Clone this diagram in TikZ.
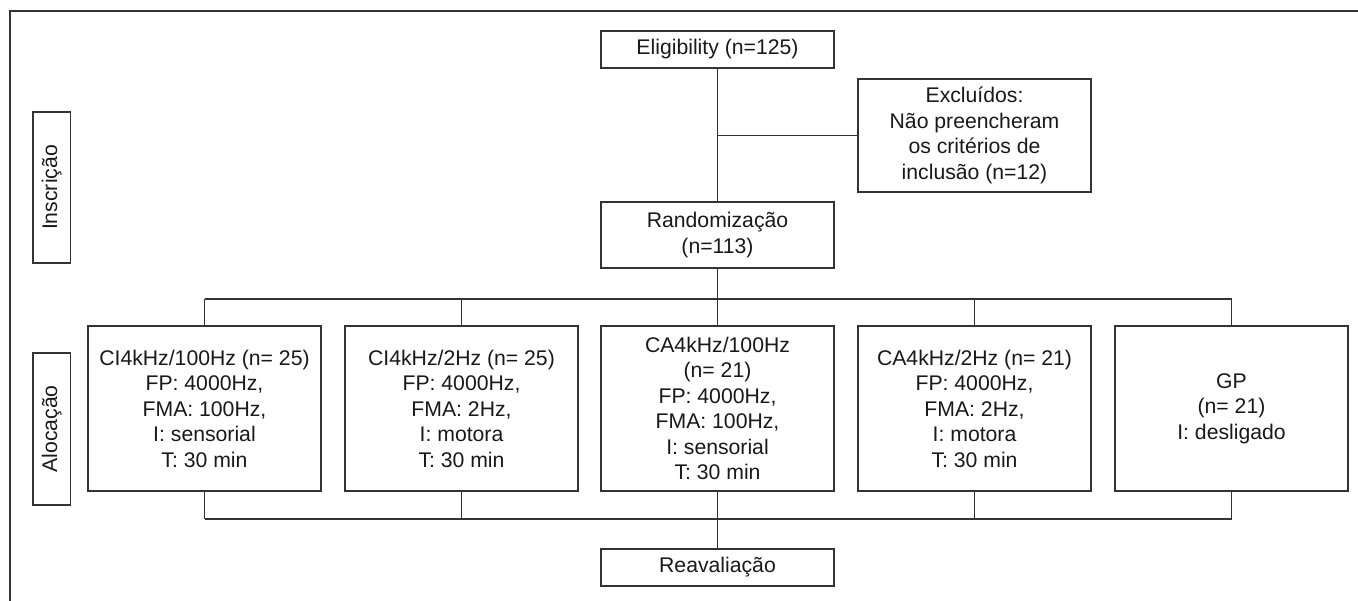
\documentclass[tikz,border=0pt]{standalone}
\usepackage{fontspec}
\setmainfont{Liberation Sans}
\begin{document}
\begin{tikzpicture}[x=0.5pt,y=-0.5pt,
  ln/.style={draw=black!80,line width=0.6pt},
  box/.style={ln,rectangle,inner sep=0pt,align=center,text=black!90,
    font=\fontsize{10.6}{12.75}\selectfont,minimum width=116.5pt},
  grp/.style={box,minimum height=82.5pt},
  side/.style={box,rotate=90,minimum width=75.5pt,minimum height=18.75pt}]
\useasboundingbox (0,0) rectangle (1358,600);
\begin{scope}
\clip (0,0) rectangle (1358,600);
\draw[ln] (10,11) rectangle (1380,620);
\end{scope}
% side labels
\node[side] (insc) at (51.75,187.5) {Inscrição};
\node[side,minimum width=76pt] (aloc) at (51.75,429) {Alocação};
% top part
\node[box,minimum height=18.5pt] (elig) at (717.5,49.5) {Eligibility (n=125)};
\node[box,minimum height=56.5pt] (excl) at (974.5,135.5) {Excluídos:\\Não preencheram\\os critérios de\\inclusão (n=12)};
\node[box,minimum height=33pt] (rand) at (717.5,235) {Randomização\\(n=113)};
% groups
\node[grp] (g1) at (204.5,408.5) {CI4kHz/100Hz (n= 25)\\FP: 4000Hz,\\FMA: 100Hz,\\I: sensorial\\T: 30 min};
\node[grp] (g2) at (461.5,408.5) {CI4kHz/2Hz (n= 25)\\FP: 4000Hz,\\FMA: 2Hz,\\I: motora\\T: 30 min};
\node[grp] (g3) at (717.5,408.5) {CA4kHz/100Hz\\(n= 21)\\FP: 4000Hz,\\FMA: 100Hz,\\I: sensorial\\T: 30 min};
\node[grp] (g4) at (974.5,408.5) {CA4kHz/2Hz (n= 21)\\FP: 4000Hz,\\FMA: 2Hz,\\I: motora\\T: 30 min};
\node[grp] (g5) at (1231.5,408.5) {GP\\(n= 21)\\I: desligado};
\node[box,minimum height=18.5pt] (reav) at (717.5,567.5) {Reavaliação};
% connectors
\coordinate (top) at (717.5,299);
\coordinate (bot) at (717.5,519);
\draw[ln] (elig.south) -- (rand.north);
\draw[ln] (excl.west) -- (excl.west -| elig.south);
\draw[ln] (rand.south) -- (top);
\draw[ln] (g1.north |- top) -- (g5.north |- top);
\foreach \g in {g1,g2,g3,g4,g5}{
  \draw[ln] (\g.north) -- (\g.north |- top);
  \draw[ln] (\g.south) -- (\g.south |- bot);
}
\draw[ln] (g1.south |- bot) -- (g5.south |- bot);
\draw[ln] (bot) -- (reav.north);
\end{tikzpicture}
\end{document}
